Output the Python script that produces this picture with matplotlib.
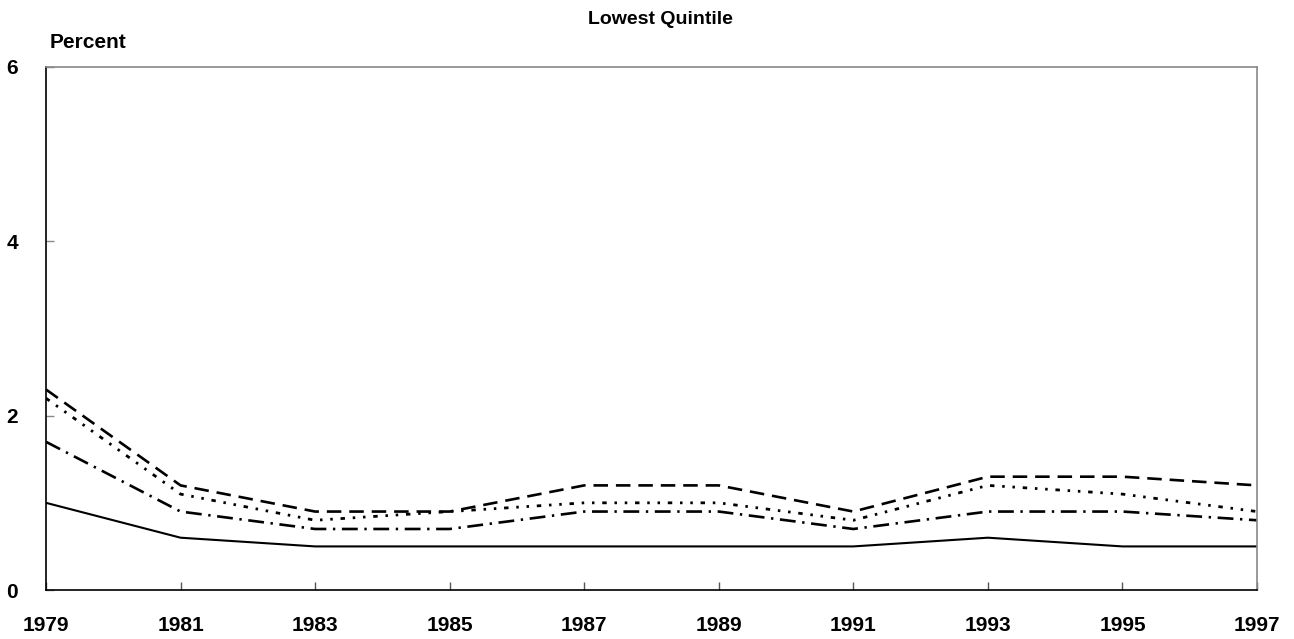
import matplotlib
matplotlib.use('Agg')
import matplotlib.pyplot as plt

plt.rcParams['font.family'] = ['Liberation Sans', 'DejaVu Sans']
plt.rcParams['font.weight'] = 'bold'

# share of income, lowest quintile
years = [1979, 1981, 1983, 1985, 1987, 1989, 1991, 1993, 1995, 1997]
solid_vals = [1.0, 0.6, 0.5, 0.5, 0.5, 0.5, 0.5, 0.6, 0.5, 0.5]
dashed_vals = [2.3, 1.2, 0.9, 0.9, 1.2, 1.2, 0.9, 1.3, 1.3, 1.2]
dotted_vals = [2.2, 1.1, 0.8, 0.9, 1.0, 1.0, 0.8, 1.2, 1.1, 0.9]
dashdot_vals = [1.7, 0.9, 0.7, 0.7, 0.9, 0.9, 0.7, 0.9, 0.9, 0.8]

y_ticks = [0, 2, 4, 6]
title = 'Lowest Quintile'
ylab = 'Percent'

fig = plt.figure(figsize=(12.94, 6.39), dpi=100)
ax = fig.add_axes([46/1294, 1-590/639, (1257-46)/1294, (590-67)/639])

ax.plot(years, solid_vals, color='black', lw=1.5, ls='-')
ax.plot(years, dashed_vals, color='black', lw=1.9, ls=(0, (5.5, 3)))
ax.plot(years, dotted_vals, color='black', lw=2.0, ls=(0, (1.6, 2.8, 0.9, 2.8, 0.9, 2.8)))
ax.plot(years, dashdot_vals, color='black', lw=1.9, ls=(0, (6, 2.5, 0.9, 2.5)))

ax.set_xlim(1979, 1997)
ax.set_ylim(0, 6)
ax.set_xticks(years)
ax.set_xticklabels([str(y) for y in years])
ax.set_yticks(y_ticks)

ax.tick_params(axis='x', direction='in', length=6, width=1, color='#555555',
               pad=19, labelsize=15)
ax.tick_params(axis='y', direction='in', length=6, width=1, color='#888888',
               pad=20, labelsize=15)
for lab in ax.get_xticklabels() + ax.get_yticklabels():
    lab.set_fontweight('bold')

ax.spines['left'].set_color('black')
ax.spines['bottom'].set_color('black')
ax.spines['top'].set_color('#888888')
ax.spines['right'].set_color('#888888')
for s in ax.spines.values():
    s.set_linewidth(1.2)

fig.text(660/1294, 1-20/639, title, ha='center', va='center',
         fontsize=14, fontweight='bold')
fig.text(50/1294, 1-43/639, ylab, ha='left', va='center',
         fontsize=15, fontweight='bold')

fig.savefig('out.png', dpi=100)
